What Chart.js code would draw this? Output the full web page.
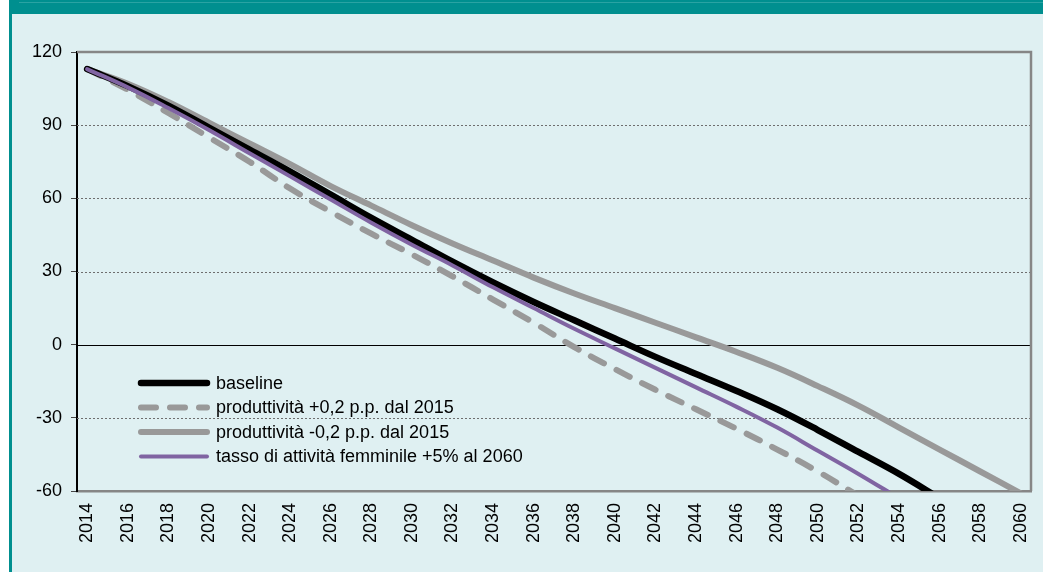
<!DOCTYPE html>
<html lang="it">
<head>
  <meta charset="UTF-8" />
  <title>Scenari</title>
  <script src="https://cdn.jsdelivr.net/npm/chart.js"></script>
  <style>
    html, body { margin: 0; padding: 0; background: #ffffff; }
    .frame { position: absolute; left: 9px; top: 0; width: 1034px; height: 572px; background: #dff0f2; border-left: 3px solid #008f8f; box-sizing: border-box; }
    .band { position: absolute; left: 9px; top: 0; width: 1034px; height: 14px; background: #008f8f; }
    .band-line { position: absolute; left: 19px; top: 2px; width: 1024px; height: 1px; background: #2aa3a3; }
    #wrap { position: absolute; left: 0; top: 0; width: 1043px; height: 572px; }
  </style>
</head>
<body>
  <div class="frame"></div>
  <div class="band"></div>
  <div class="band-line"></div>
  <div id="wrap"><canvas id="chart"></canvas></div>

  <script>
    // years on the axis (annual categories, values read every 2 years)
    const years = [];
    for (let y = 2014; y <= 2060; y++) years.push(String(y));

    const readYears = [2014, 2016, 2018, 2020, 2022, 2024, 2026, 2028, 2030, 2032, 2034, 2036,
                       2038, 2040, 2042, 2044, 2046, 2048, 2050, 2052, 2054, 2056, 2058, 2060];

    const baseline   = [113, 106, 98, 89, 80, 71, 61.5, 52, 43, 34, 25.5, 17.5,
                        10, 2.5, -5, -12, -19, -26.5, -35, -44, -53, -63, -73, -84];
    const prodPlus   = [113, 104.5, 95, 85, 75, 64, 54.5, 45.5, 37, 28, 18.5, 9,
                        -1, -10, -18.5, -26.5, -34.5, -43, -52, -62, -72, -82, -92, -102];
    const prodMinus  = [113, 107, 99.5, 91, 82.5, 74, 65, 57, 49, 41.5, 34.5, 27.5,
                        21, 15, 9, 3, -3, -9.5, -17, -25, -34, -43, -52, -61];
    const femminile  = [113, 105.5, 97, 88, 78.5, 69, 59.5, 50, 41, 32.5, 23.5, 15,
                        6.5, -1.5, -9.5, -17.5, -25.5, -34, -43.5, -53, -63, -73, -83, -93];

    const yTicks = [120, 90, 60, 30, 0, -30, -60];

    // spread the values read every 2 years onto the annual axis (gaps spanned)
    function onAxis(values) {
      return years.map(y => {
        const i = readYears.indexOf(Number(y));
        return i >= 0 ? values[i] : null;
      });
    }

    const FONT = "'Liberation Sans', Arial, sans-serif";

    // grid lines, frame and legend drawn from the scales
    const framePlugin = {
      id: "frame",
      beforeDatasetsDraw(chart) {
        const { ctx, chartArea: a, scales: { y } } = chart;
        ctx.save();
        y.ticks.forEach(t => {
          if (t.value === 120 || t.value === -60) return;
          const py = Math.round(y.getPixelForValue(t.value)) + 0.5;
          ctx.beginPath();
          if (t.value === 0) {
            ctx.strokeStyle = "#000";
            ctx.setLineDash([]);
          } else {
            ctx.strokeStyle = "#6e6e6e";
            ctx.setLineDash([2, 2]);
          }
          ctx.lineWidth = 1;
          ctx.moveTo(a.left, py);
          ctx.lineTo(a.right, py);
          ctx.stroke();
        });
        ctx.setLineDash([]);
        ctx.strokeStyle = "#868686";
        ctx.lineWidth = 2.5;
        ctx.beginPath();
        ctx.moveTo(a.left, a.top);
        ctx.lineTo(a.right, a.top);
        ctx.lineTo(a.right, a.bottom);
        ctx.stroke();
        ctx.restore();
      },
      afterDraw(chart) {
        const { ctx } = chart;
        ctx.save();
        ctx.font = "18px " + FONT;
        ctx.textBaseline = "middle";
        chart.data.datasets.forEach((ds, i) => {
          const ly = 383 + i * 24.5;
          ctx.beginPath();
          ctx.strokeStyle = ds.borderColor;
          ctx.lineWidth = ds.borderWidth;
          ctx.lineCap = "round";
          ctx.setLineDash(ds.borderDash || []);
          ctx.moveTo(141, ly);
          ctx.lineTo(207, ly);
          ctx.stroke();
          ctx.setLineDash([]);
          ctx.fillStyle = "#000";
          ctx.fillText(ds.label, 216, ly + 1);
        });
        ctx.restore();
      }
    };

    new Chart(document.getElementById("chart"), {
      type: "line",
      data: {
        labels: years,
        datasets: [
          {
            label: "baseline",
            data: onAxis(baseline),
            borderColor: "#000000",
            borderWidth: 6.5,
            order: 1
          },
          {
            label: "produttività +0,2 p.p. dal 2015",
            data: onAxis(prodPlus),
            borderColor: "#999999",
            borderWidth: 6,
            borderDash: [15, 14],
            order: 3
          },
          {
            label: "produttività -0,2 p.p. dal 2015",
            data: onAxis(prodMinus),
            borderColor: "#999999",
            borderWidth: 6,
            order: 2
          },
          {
            label: "tasso di attività femminile +5% al 2060",
            data: onAxis(femminile),
            borderColor: "#8064a2",
            borderWidth: 4,
            order: 0
          }
        ]
      },
      options: {
        responsive: true,
        maintainAspectRatio: false,
        animation: false,
        spanGaps: true,
        clip: 0,
        layout: { padding: { left: 0, top: 52, right: 12, bottom: 0 } },
        elements: {
          point: { radius: 0 },
          line: { tension: 0.4, borderCapStyle: "round", borderJoinStyle: "round" }
        },
        plugins: {
          legend: { display: false },
          tooltip: { enabled: false }
        },
        scales: {
          x: {
            offset: true,
            afterFit: s => { s.height = 81; s.paddingLeft = 0; s.paddingRight = 0; },
            grid: { display: false },
            border: { display: true, color: "#868686", width: 2.5 },
            ticks: {
              autoSkip: false,
              maxRotation: 90,
              minRotation: 90,
              padding: 4,
              color: "#000",
              font: { family: FONT, size: 18 },
              callback: (v, i) => (i % 2 === 0 ? years[i] : "")
            }
          },
          y: {
            min: -60,
            max: 120,
            afterFit: s => { s.width = 77; s.paddingTop = 0; s.paddingBottom = 0; },
            afterBuildTicks: s => { s.ticks = yTicks.map(v => ({ value: v })); },
            grid: { drawOnChartArea: false, drawTicks: true, tickLength: 6, tickColor: "#444", color: "#444" },
            border: { display: true, color: "#000", width: 2 },
            ticks: {
              padding: 9,
              color: "#000",
              font: { family: FONT, size: 18 }
            }
          }
        }
      },
      plugins: [framePlugin]
    });
  </script>
</body>
</html>
